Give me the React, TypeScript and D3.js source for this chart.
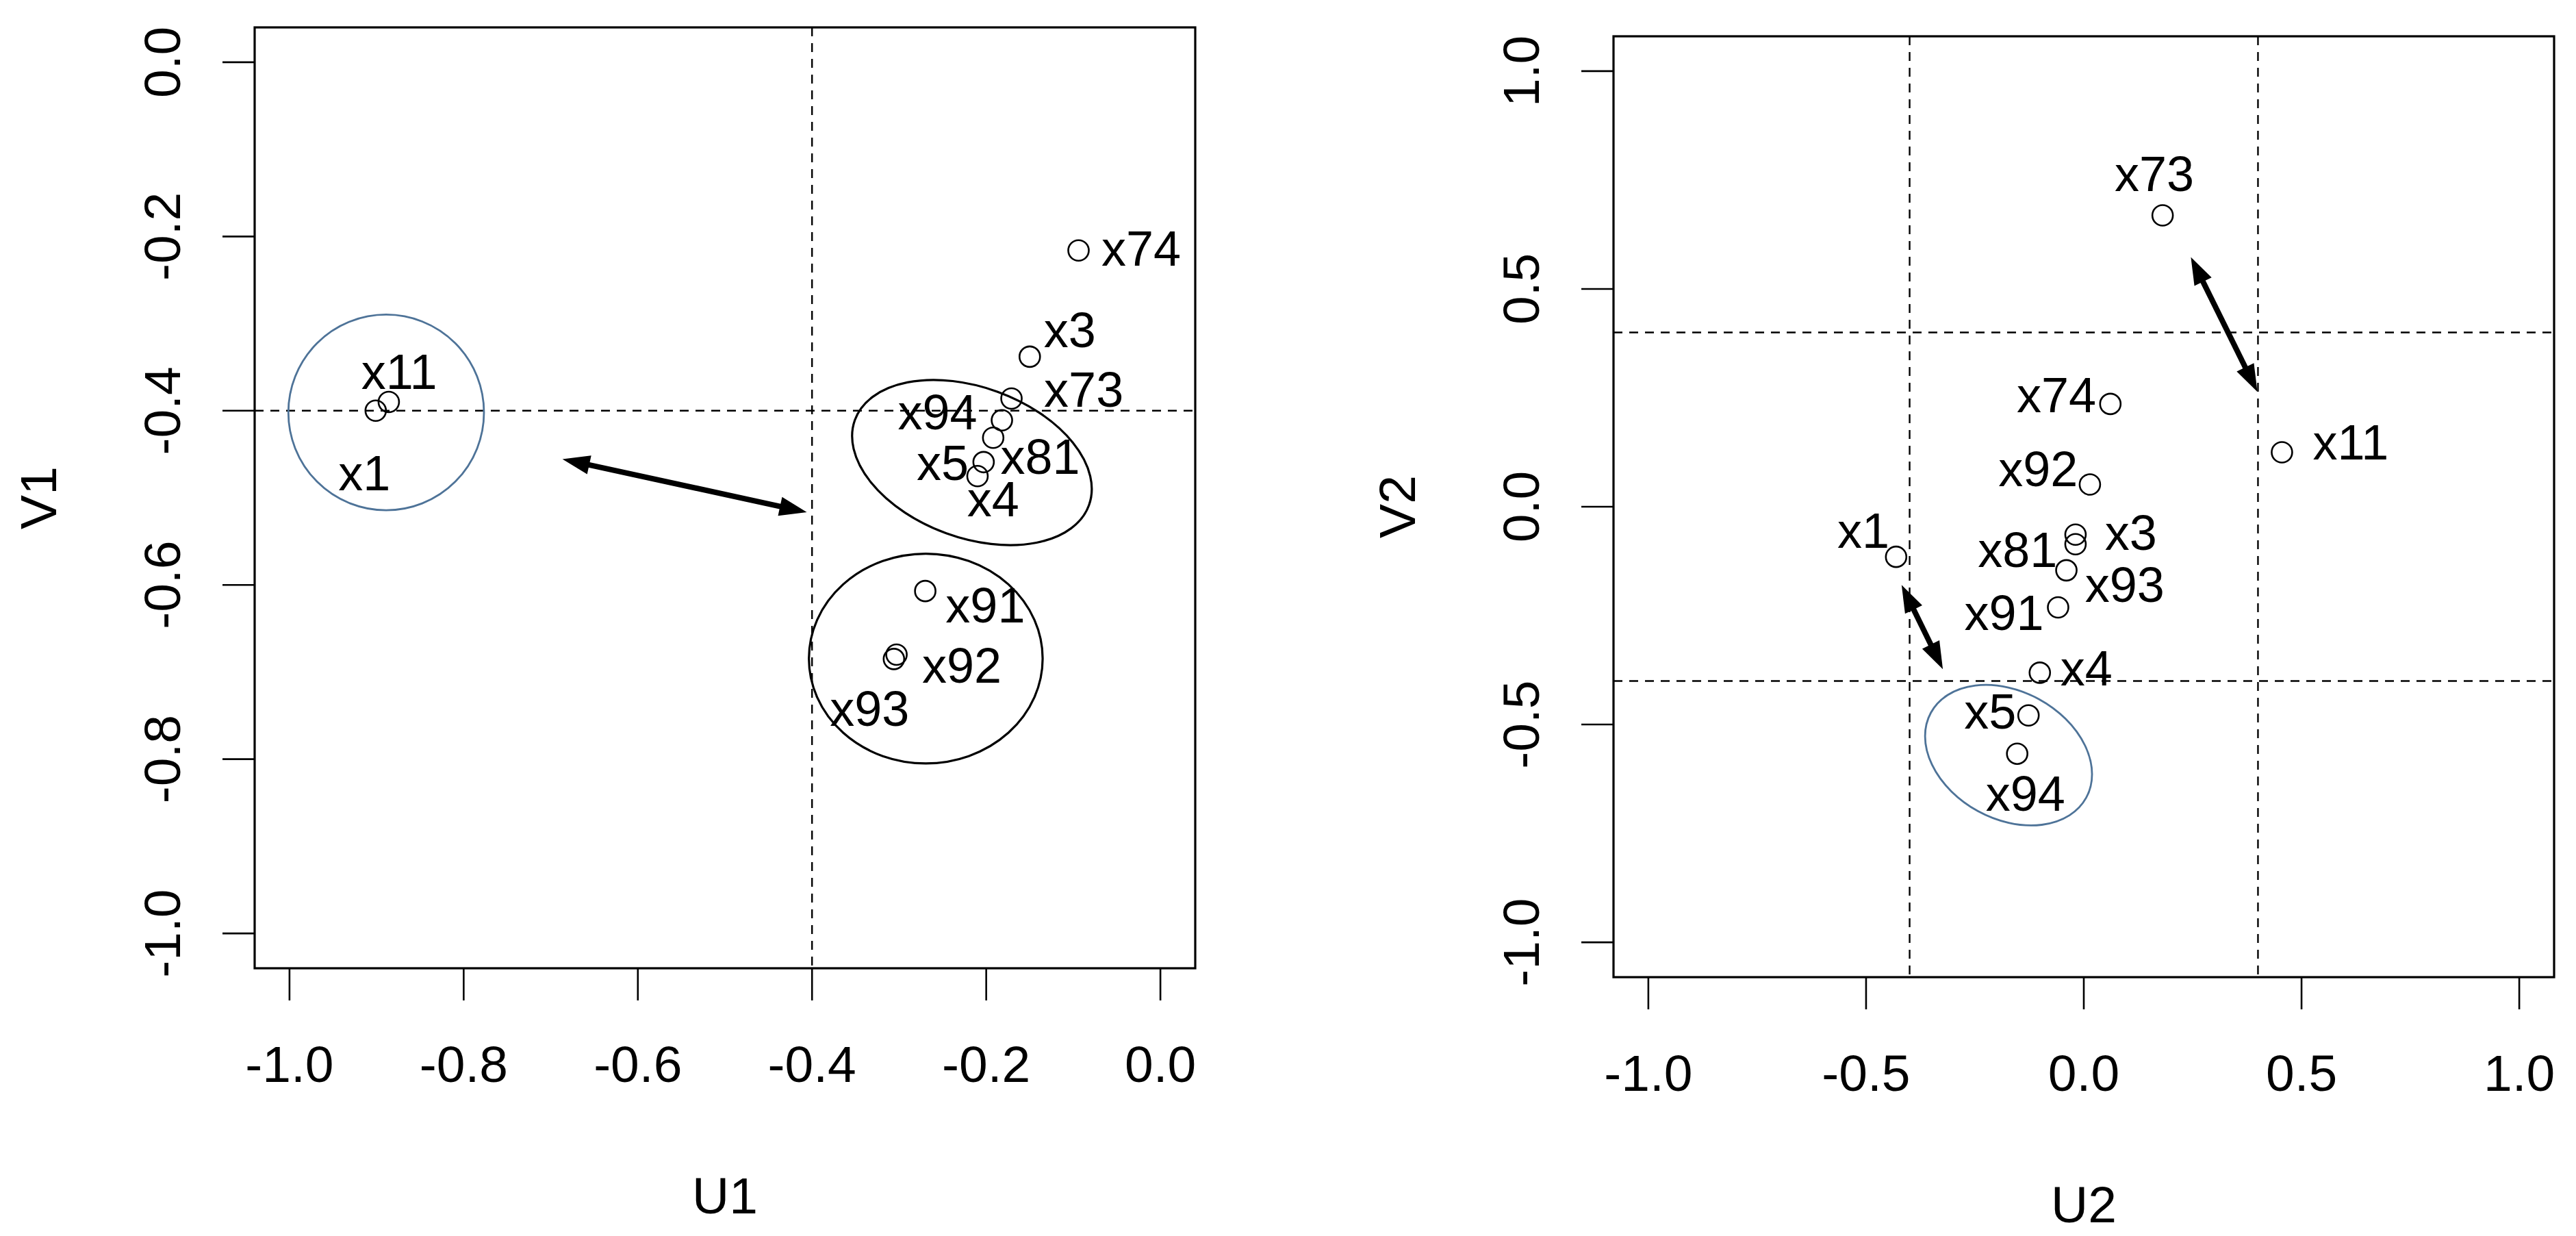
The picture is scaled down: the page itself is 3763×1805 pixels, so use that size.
import React from 'react';
import * as d3 from 'd3';

// ---------- data ----------
// Left panel (U1 vs V1)
const leftNames = ['x74', 'x3', 'x73', 'x94', 'x81', 'x5', 'x4', 'x91', 'x92', 'x93', 'x11', 'x1'];
const leftU = [-0.094, -0.150, -0.171, -0.182, -0.192, -0.203, -0.210, -0.270, -0.303, -0.306, -0.886, -0.901];
const leftV = [-0.216, -0.338, -0.386, -0.411, -0.431, -0.459, -0.475, -0.607, -0.680, -0.685, -0.390, -0.400];
const leftLabelU = [-0.022, -0.104, -0.088, -0.256, -0.138, -0.250, -0.192, -0.201, -0.228, -0.334, -0.874, -0.914];
const leftLabelV = [-0.213, -0.307, -0.375, -0.401, -0.452, -0.459, -0.501, -0.623, -0.692, -0.741, -0.355, -0.471];

// Right panel (U2 vs V2)
const rightNames = ['x73', 'x74', 'x11', 'x92', 'x1', 'x3', 'x81', 'x93', 'x91', 'x4', 'x5', 'x94'];
const rightU = [0.181, 0.061, 0.455, 0.014, -0.431, -0.019, -0.019, -0.040, -0.059, -0.101, -0.127, -0.153];
const rightV = [0.669, 0.236, 0.125, 0.051, -0.115, -0.064, -0.086, -0.146, -0.231, -0.381, -0.479, -0.567];
const rightLabelU = [0.162, -0.063, 0.613, -0.105, -0.506, 0.108, -0.152, 0.094, -0.183, 0.006, -0.215, -0.134];
const rightLabelV = [0.766, 0.257, 0.149, 0.088, -0.053, -0.059, -0.098, -0.177, -0.243, -0.370, -0.469, -0.657];

// ticks
const leftTicks = [-1.0, -0.8, -0.6, -0.4, -0.2, 0.0];
const rightTicks = [-1.0, -0.5, 0.0, 0.5, 1.0];

// reference (dashed) lines
const leftRefU = [-0.4];
const leftRefV = [-0.4];
const rightRefU = [-0.4, 0.4];
const rightRefV = [-0.4, 0.4];

// ellipses: centre (u, v), semi-axes (a along rotated x, b), rotation (deg, clockwise on screen)
const leftEllU = [-0.889, -0.2164, -0.2694];
const leftEllV = [-0.402, -0.4595, -0.6845];
const leftEllA = [0.1123, 0.143, 0.1342];
const leftEllB = [0.1123, 0.0864, 0.1204];
const leftEllRot = [0, 20, 0];
const leftEllGroup = ['blue', 'black', 'black'];

const rightEllU = [-0.1728];
const rightEllV = [-0.5704];
const rightEllA = [0.2033];
const rightEllB = [0.1464];
const rightEllRot = [28.7];
const rightEllGroup = ['blue'];

// double-headed arrows: [u1, v1, u2, v2]
const leftArrows = [[-0.6866, -0.4555, -0.406, -0.5165]];
const rightArrows = [
  [0.2459, 0.573, 0.3987, 0.2637],
  [-0.4184, -0.1796, -0.3237, -0.3728],
];

// ---------- drawing ----------
const FONT = '"Liberation Sans", Arial, Helvetica, sans-serif';
const BLUE = '#4e7398';

type Panel = {
  key: string;
  frame: { x0: number; x1: number; y0: number; y1: number };
  domain: [number, number];
  ticks: number[];
  names: string[];
  u: number[];
  v: number[];
  lu: number[];
  lv: number[];
  refU: number[];
  refV: number[];
  ell: { u: number[]; v: number[]; a: number[]; b: number[]; rot: number[]; group: string[] };
  arrows: number[][];
  xTitle: string;
  yTitle: string;
};

const panels: Panel[] = [
  {
    key: 'left',
    frame: { x0: 372, x1: 1746, y0: 40, y1: 1414 },
    domain: [-1, 0],
    ticks: leftTicks,
    names: leftNames, u: leftU, v: leftV, lu: leftLabelU, lv: leftLabelV,
    refU: leftRefU, refV: leftRefV,
    ell: { u: leftEllU, v: leftEllV, a: leftEllA, b: leftEllB, rot: leftEllRot, group: leftEllGroup },
    arrows: leftArrows,
    xTitle: 'U1', yTitle: 'V1',
  },
  {
    key: 'right',
    frame: { x0: 2357, x1: 3731, y0: 53, y1: 1427 },
    domain: [-1, 1],
    ticks: rightTicks,
    names: rightNames, u: rightU, v: rightV, lu: rightLabelU, lv: rightLabelV,
    refU: rightRefU, refV: rightRefV,
    ell: { u: rightEllU, v: rightEllV, a: rightEllA, b: rightEllB, rot: rightEllRot, group: rightEllGroup },
    arrows: rightArrows,
    xTitle: 'U2', yTitle: 'V2',
  },
];

function Arrow({ x1, y1, x2, y2 }: { x1: number; y1: number; x2: number; y2: number }) {
  const dx = x2 - x1, dy = y2 - y1;
  const len = Math.hypot(dx, dy);
  const ux = dx / len, uy = dy / len;
  const px = -uy, py = ux;
  const hl = 40, hw = 14;
  const head = (tx: number, ty: number, dirx: number, diry: number) => {
    const bx = tx - dirx * hl, by = ty - diry * hl;
    return `${tx},${ty} ${bx + px * hw},${by + py * hw} ${bx - px * hw},${by - py * hw}`;
  };
  const inset = hl * 0.7;
  return (
    <g>
      <line x1={x1 + ux * inset} y1={y1 + uy * inset} x2={x2 - ux * inset} y2={y2 - uy * inset}
        stroke="#000" strokeWidth={8} />
      <polygon points={head(x2, y2, ux, uy)} fill="#000" />
      <polygon points={head(x1, y1, -ux, -uy)} fill="#000" />
    </g>
  );
}

function PanelView({ p }: { p: Panel }) {
  const { frame } = p;
  const span = p.domain[1] - p.domain[0];
  const ext = span * 0.04;
  const xs = d3.scaleLinear().domain([p.domain[0] - ext, p.domain[1] + ext]).range([frame.x0, frame.x1]);
  const ys = d3.scaleLinear().domain([p.domain[0] - ext, p.domain[1] + ext]).range([frame.y1, frame.y0]);
  const pxPerUnit = (frame.x1 - frame.x0) / (span + 2 * ext);
  const fmt = (t: number) => t.toFixed(1);
  const tickLen = 47;
  const clipId = `clip-${p.key}`;
  const cx = (frame.x0 + frame.x1) / 2;
  const cy = (frame.y0 + frame.y1) / 2;
  return (
    <g>
      <defs>
        <clipPath id={clipId}>
          <rect x={frame.x0} y={frame.y0} width={frame.x1 - frame.x0} height={frame.y1 - frame.y0} />
        </clipPath>
      </defs>
      {/* dashed reference lines */}
      <g clipPath={`url(#${clipId})`} stroke="#000" strokeWidth={2.4} strokeDasharray="13 10">
        {p.refU.map((r, i) => (
          <line key={`ru${i}`} x1={xs(r)} x2={xs(r)} y1={frame.y0} y2={frame.y1} />
        ))}
        {p.refV.map((r, i) => (
          <line key={`rv${i}`} x1={frame.x0} x2={frame.x1} y1={ys(r)} y2={ys(r)} />
        ))}
      </g>
      {/* ellipses */}
      {p.ell.u.map((u, i) => (
        <ellipse key={`e${i}`}
          cx={xs(u)} cy={ys(p.ell.v[i])}
          rx={p.ell.a[i] * pxPerUnit} ry={p.ell.b[i] * pxPerUnit}
          transform={`rotate(${p.ell.rot[i]} ${xs(u)} ${ys(p.ell.v[i])})`}
          fill="none"
          stroke={p.ell.group[i] === 'blue' ? BLUE : '#000'}
          strokeWidth={p.ell.group[i] === 'blue' ? 2.8 : 3.2} />
      ))}
      {/* arrows */}
      {p.arrows.map((a, i) => (
        <Arrow key={`a${i}`} x1={xs(a[0])} y1={ys(a[1])} x2={xs(a[2])} y2={ys(a[3])} />
      ))}
      {/* points */}
      {p.u.map((u, i) => (
        <circle key={`p${i}`} cx={xs(u)} cy={ys(p.v[i])} r={15} fill="none" stroke="#000" strokeWidth={2.6} />
      ))}
      {/* labels */}
      {p.names.map((n, i) => (
        <text key={`l${i}`} x={xs(p.lu[i])} y={ys(p.lv[i])} dy="0.36em" textAnchor="middle"
          fontFamily={FONT} fontSize={72} fill="#000">{n}</text>
      ))}
      {/* frame */}
      <rect x={frame.x0} y={frame.y0} width={frame.x1 - frame.x0} height={frame.y1 - frame.y0}
        fill="none" stroke="#000" strokeWidth={3.2} />
      {/* x axis */}
      {p.ticks.map((t, i) => (
        <g key={`xt${i}`}>
          <line x1={xs(t)} x2={xs(t)} y1={frame.y1} y2={frame.y1 + tickLen} stroke="#000" strokeWidth={2.6} />
          <text x={xs(t)} y={frame.y1 + 139} dy="0.36em" textAnchor="middle" fontFamily={FONT} fontSize={75}>{fmt(t)}</text>
        </g>
      ))}
      {/* y axis */}
      {p.ticks.map((t, i) => (
        <g key={`yt${i}`}>
          <line x1={frame.x0 - tickLen} x2={frame.x0} y1={ys(t)} y2={ys(t)} stroke="#000" strokeWidth={2.6} />
          <text transform={`translate(${frame.x0 - 136},${ys(t)}) rotate(-90)`} dy="0.36em" textAnchor="middle"
            fontFamily={FONT} fontSize={75}>{fmt(t)}</text>
        </g>
      ))}
      {/* titles */}
      <text x={cx} y={frame.y1 + 331} dy="0.36em" textAnchor="middle" fontFamily={FONT} fontSize={75}>{p.xTitle}</text>
      <text transform={`translate(${frame.x0 - 317},${cy}) rotate(-90)`} dy="0.36em" textAnchor="middle"
        fontFamily={FONT} fontSize={75}>{p.yTitle}</text>
    </g>
  );
}

export default function App() {
  return (
    <svg width={3763} height={1805} viewBox="0 0 3763 1805"
      style={{ position: 'absolute', left: 0, top: 0, background: '#fff' }}
      xmlns="http://www.w3.org/2000/svg">
      <rect x={0} y={0} width={3763} height={1805} fill="#fff" />
      {panels.map((p) => <PanelView key={p.key} p={p} />)}
    </svg>
  );
}
